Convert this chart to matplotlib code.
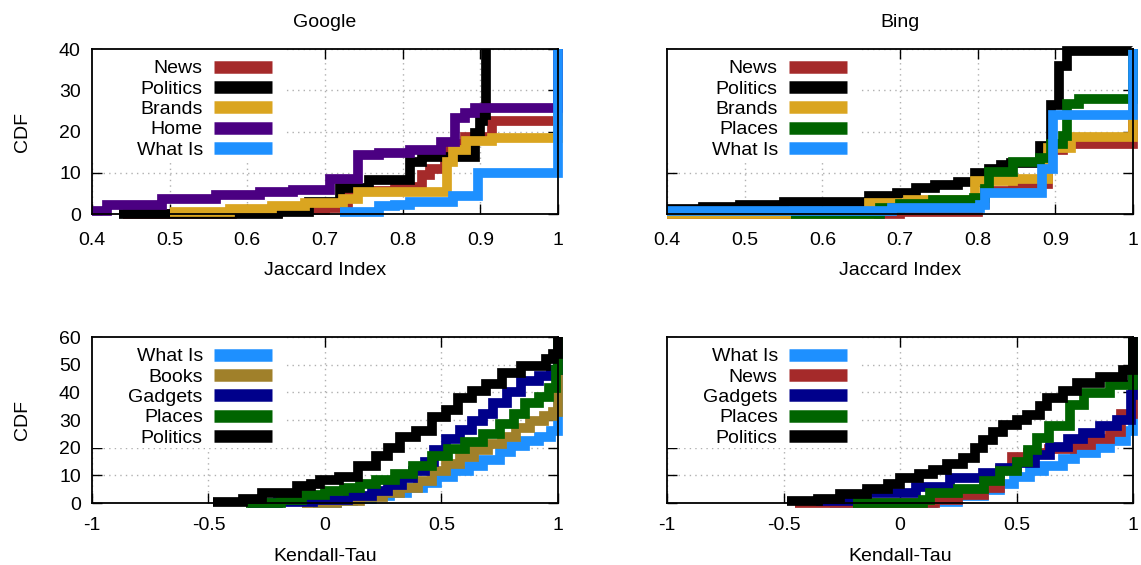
import matplotlib
matplotlib.use("Agg")
import matplotlib.pyplot as plt
from matplotlib.patches import Rectangle

plt.rcParams["font.family"] = ["Liberation Sans", "DejaVu Sans"]
plt.rcParams["font.size"] = 14

# couleurs des séries
C_NEWS = "#A52A2A"
C_POLITICS = "#000000"
C_BRANDS = "#DAA520"
C_HOME = "#4B0082"
C_WHATIS = "#1E90FF"
C_PLACES = "#006400"
C_BOOKS = "#A0802A"
C_GADGETS = "#00008B"

# --- Google, Jaccard ---
g_jac_news_x = [0.44, 0.58, 0.64, 0.70, 0.73, 0.79, 0.825, 0.835, 0.855, 0.88, 0.915, 1.0]
g_jac_news_y = [0, 0.3, 1.0, 1.5, 5.5, 6.5, 9.4, 10.9, 17, 18.6, 22.5, 40]
g_jac_politics_x = [0.435, 0.64, 0.68, 0.72, 0.757, 0.81, 0.825, 0.893, 0.9, 0.904, 0.907]
g_jac_politics_y = [0, 0.4, 3.0, 6.2, 8.2, 12.6, 13.8, 19.6, 22.5, 24, 40]
g_jac_brands_x = [0.50, 0.578, 0.632, 0.674, 0.723, 0.742, 0.857, 0.865, 0.882, 0.915, 1.0]
g_jac_brands_y = [0.4, 1.2, 2.0, 2.6, 3.7, 5.3, 12.6, 15.5, 17.7, 18.4, 40]
g_jac_home_x = [0.4, 0.42, 0.49, 0.56, 0.616, 0.659, 0.706, 0.742, 0.77, 0.81, 0.85, 0.867, 0.88, 0.893, 1.0]
g_jac_home_y = [0.85, 2.2, 3.6, 4.6, 5.4, 5.8, 8.6, 14.3, 14.9, 15.5, 17.5, 23.4, 24.4, 25.8, 40]
g_jac_whatis_x = [0.72, 0.77, 0.79, 0.81, 0.865, 0.897, 1.0]
g_jac_whatis_y = [0.6, 2.0, 2.3, 2.9, 4.4, 10, 40]

# --- Bing, Jaccard ---
b_jac_news_x = [0.4, 0.70, 0.80, 0.81, 0.845, 0.89, 0.91, 1.0]
b_jac_news_y = [0, 0.5, 2.5, 5.5, 7.3, 15.5, 17.0, 40]
b_jac_politics_x = [0.4, 0.446, 0.494, 0.55, 0.66, 0.696, 0.72, 0.745, 0.775, 0.797, 0.815,
                    0.83, 0.843, 0.88, 0.895, 0.905, 0.915, 1.0]
b_jac_politics_y = [1.2, 1.6, 2.2, 3.0, 4.3, 5.2, 6.2, 7.0, 7.8, 10.0, 11.0,
                    11.8, 12.3, 16.5, 26.5, 36, 39.6, 40]
b_jac_brands_x = [0.4, 0.66, 0.71, 0.797, 0.845, 0.89, 0.92, 1.0]
b_jac_brands_y = [0, 2.7, 3.4, 8.0, 8.6, 16.0, 18.7, 40]
b_jac_places_x = [0.56, 0.674, 0.70, 0.742, 0.795, 0.81, 0.815, 0.845, 0.88, 0.895, 0.91, 0.915, 0.93, 1.0]
b_jac_places_y = [0, 1.5, 2.5, 3.5, 3.9, 6.0, 10.3, 12.6, 13.5, 17, 19, 26.6, 28, 40]
b_jac_whatis_x = [0.4, 0.69, 0.803, 0.81, 0.883, 0.897, 1.0]
b_jac_whatis_y = [0.85, 1.4, 2.2, 5.2, 11, 24, 40]

# --- Google, Kendall-Tau ---
g_kt_whatis_x = [-0.05, 0.05, 0.12, 0.2, 0.28, 0.35, 0.42, 0.48, 0.55, 0.62, 0.68, 0.75, 0.8, 0.86, 0.92, 0.97, 1.0]
g_kt_whatis_y = [0, 0.8, 1.6, 2.5, 3.8, 5.5, 7.2, 9.5, 11.5, 13.5, 15.5, 18.5, 20.5, 22.5, 24, 26, 60]
g_kt_books_x = [-0.1, 0.05, 0.15, 0.25, 0.32, 0.4, 0.46, 0.52, 0.58, 0.64, 0.7, 0.76, 0.82, 0.88, 0.94, 0.98, 1.0]
g_kt_books_y = [0, 0.8, 2.0, 3.5, 5.5, 8.0, 11.5, 14, 16.5, 19, 21.5, 24, 27, 29.5, 31.5, 33, 60]
g_kt_gadgets_x = [-0.33, -0.2, -0.05, 0.1, 0.2, 0.27, 0.33, 0.38, 0.43, 0.47, 0.52, 0.58, 0.63, 0.68,
                  0.72, 0.78, 0.84, 0.92, 0.97, 1.0]
g_kt_gadgets_y = [0, 0.5, 1.2, 2.5, 4.5, 6.5, 9, 11.5, 15, 19, 23, 26.5, 29.5, 32,
                  36, 40, 44, 46, 48, 60]
g_kt_places_x = [-0.34, -0.19, -0.1, 0.0, 0.08, 0.15, 0.22, 0.3, 0.38, 0.46, 0.53, 0.6, 0.68, 0.75,
                 0.81, 0.86, 0.92, 0.96, 0.99, 1.0]
g_kt_places_y = [0, 1, 3, 4.5, 5.5, 7, 8.5, 10.5, 13.5, 17, 19.5, 22, 25, 28.5,
                 32, 36, 38.5, 41.5, 48, 60]
g_kt_politics_x = [-0.48, -0.35, -0.27, -0.12, -0.06, -0.02, 0.06, 0.14, 0.22, 0.27, 0.32, 0.39, 0.46,
                   0.52, 0.57, 0.63, 0.69, 0.76, 0.84, 0.95, 0.98, 1.0]
g_kt_politics_y = [0.5, 1.5, 3.6, 6.0, 7.0, 8.5, 9.5, 13.4, 17, 20, 24, 26, 31,
                   33.6, 38, 40.5, 43, 47, 49.5, 52, 54, 60]

# --- Bing, Kendall-Tau ---
b_kt_whatis_x = [-0.3, 0.14, 0.25, 0.36, 0.43, 0.49, 0.56, 0.62, 0.7, 0.75, 0.84, 0.9, 0.97, 1.0]
b_kt_whatis_y = [0, 0.5, 2.5, 4.7, 7, 9.5, 11.5, 13.5, 16, 18, 20, 22.5, 26, 60]
b_kt_news_x = [-0.45, 0.15, 0.25, 0.36, 0.43, 0.48, 0.55, 0.64, 0.74, 0.82, 0.9, 0.95, 1.0]
b_kt_news_y = [0, 1, 3, 5.5, 12, 16.5, 18, 19.5, 21, 23, 25.5, 32, 60]
b_kt_gadgets_x = [-0.36, -0.14, 0.07, 0.215, 0.356, 0.43, 0.5, 0.58, 0.644, 0.72, 0.785, 0.86, 0.93, 0.99, 1.0]
b_kt_gadgets_y = [0.8, 3.6, 5.8, 9.0, 10.8, 12.5, 14.4, 17.5, 20.3, 23, 25.3, 28, 30, 39, 60]
b_kt_places_x = [-0.2, 0.1, 0.13, 0.25, 0.36, 0.43, 0.5, 0.55, 0.59, 0.64, 0.73, 0.79, 0.9, 1.0]
b_kt_places_y = [0, 1, 3.5, 5, 8, 11.5, 15, 19, 23.5, 28, 35.4, 39.8, 42.6, 60]
b_kt_politics_x = [-0.485, -0.35, -0.257, -0.14, -0.05, 0.0, 0.08, 0.14, 0.2, 0.27, 0.32, 0.356, 0.4,
                   0.44, 0.5, 0.545, 0.6, 0.63, 0.7, 0.76, 0.86, 0.957, 1.0]
b_kt_politics_y = [0.6, 1.5, 3.2, 5.0, 7, 9, 10.5, 12, 14, 16.3, 20, 22.8, 25.5,
                   28.2, 30, 31.8, 35, 37.9, 40.5, 43.4, 45.5, 48, 60]

jac_ticks = [0.4, 0.5, 0.6, 0.7, 0.8, 0.9, 1.0]
jac_labels = ["0.4", "0.5", "0.6", "0.7", "0.8", "0.9", "1"]
kt_ticks = [-1, -0.5, 0, 0.5, 1]
kt_labels = ["-1", "-0.5", "0", "0.5", "1"]

panels = [
    # (position, titre, xlabel, ylabel, xlim, ylim, séries)
    ([0.0806, 0.6212, 0.4084, 0.292], "Google", "Jaccard Index", "CDF", (0.4, 1.0), 40, [
        ("News", C_NEWS, g_jac_news_x, g_jac_news_y),
        ("Politics", C_POLITICS, g_jac_politics_x, g_jac_politics_y),
        ("Brands", C_BRANDS, g_jac_brands_x, g_jac_brands_y),
        ("Home", C_HOME, g_jac_home_x, g_jac_home_y),
        ("What Is", C_WHATIS, g_jac_whatis_x, g_jac_whatis_y),
    ]),
    ([0.5846, 0.6212, 0.4084, 0.292], "Bing", "Jaccard Index", None, (0.4, 1.0), 40, [
        ("News", C_NEWS, b_jac_news_x, b_jac_news_y),
        ("Politics", C_POLITICS, b_jac_politics_x, b_jac_politics_y),
        ("Brands", C_BRANDS, b_jac_brands_x, b_jac_brands_y),
        ("Places", C_PLACES, b_jac_places_x, b_jac_places_y),
        ("What Is", C_WHATIS, b_jac_whatis_x, b_jac_whatis_y),
    ]),
    ([0.0806, 0.1097, 0.4084, 0.2938], None, "Kendall-Tau", "CDF", (-1, 1), 60, [
        ("What Is", C_WHATIS, g_kt_whatis_x, g_kt_whatis_y),
        ("Books", C_BOOKS, g_kt_books_x, g_kt_books_y),
        ("Gadgets", C_GADGETS, g_kt_gadgets_x, g_kt_gadgets_y),
        ("Places", C_PLACES, g_kt_places_x, g_kt_places_y),
        ("Politics", C_POLITICS, g_kt_politics_x, g_kt_politics_y),
    ]),
    ([0.5846, 0.1097, 0.4084, 0.2938], None, "Kendall-Tau", None, (-1, 1), 60, [
        ("What Is", C_WHATIS, b_kt_whatis_x, b_kt_whatis_y),
        ("News", C_NEWS, b_kt_news_x, b_kt_news_y),
        ("Gadgets", C_GADGETS, b_kt_gadgets_x, b_kt_gadgets_y),
        ("Places", C_PLACES, b_kt_places_x, b_kt_places_y),
        ("Politics", C_POLITICS, b_kt_politics_x, b_kt_politics_y),
    ]),
]

fig = plt.figure(figsize=(11.41, 5.65), dpi=100)

for pos, title, xlabel, ylabel, xlim, ymax, series in panels:
    ax = fig.add_axes(pos)
    handles = []
    for label, color, xs, ys in series:
        (ln,) = ax.step(xs, ys, where="post", color=color, lw=7, label=label,
                        solid_joinstyle="miter", solid_capstyle="butt",
                        clip_on=False, zorder=2)
        handles.append(ln)

    top_row = title is not None
    ax.set_xlim(*xlim)
    ax.set_ylim(0, ymax)
    if xlim[0] == 0.4:
        ax.set_xticks(jac_ticks)
        ax.set_xticklabels(jac_labels)
    else:
        ax.set_xticks(kt_ticks)
        ax.set_xticklabels(kt_labels)
    ax.set_yticks(range(0, ymax + 1, 10))
    if ylabel is None:
        ax.set_yticklabels([])
    else:
        ax.set_ylabel(ylabel, labelpad=20)
    ax.set_xlabel(xlabel, labelpad=9 if top_row else 10)
    if top_row:
        ax.set_title(title, pad=16, fontsize=14)

    ax.tick_params(direction="in", length=7, width=1, top=True, right=True)
    ax.tick_params(axis="x", pad=13 if top_row else 10)
    ax.tick_params(axis="y", pad=8)
    ax.grid(True, color="#b0b0b0", linestyle=(0, (1, 3)), linewidth=1)
    ax.set_axisbelow(True)
    for sp in ax.spines.values():
        sp.set_linewidth(1.3)
        sp.set_zorder(3)

    # fond blanc sous la légende (cache la grille)
    ax.add_patch(Rectangle((0, 0.33), 0.41, 0.67, transform=ax.transAxes,
                           facecolor="white", edgecolor="none", zorder=1))

    leg = ax.legend(handles=handles, loc="upper right", bbox_to_anchor=(0.386, 0.935),
                    markerfirst=False, frameon=False, handlelength=3.0,
                    handletextpad=0.55, labelspacing=0.14, borderpad=0,
                    borderaxespad=0, fontsize=14)
    for hl in leg.get_lines():
        hl.set_linewidth(9)
        hl.set_solid_capstyle("butt")

fig.savefig("out.png", dpi=100)
